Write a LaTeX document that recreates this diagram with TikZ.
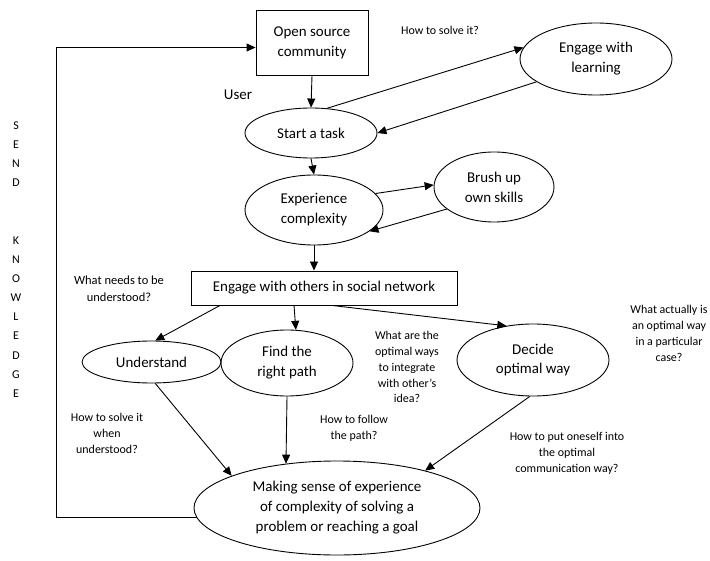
\documentclass[tikz,border=0pt]{standalone}
\usepackage{fontspec}
\setmainfont{Carlito}
\usetikzlibrary{arrows.meta,shapes.geometric}

\begin{document}
\begin{tikzpicture}[x=1bp, y=-1bp, line width=0.9pt,
  >={Triangle[length=9bp,width=8bp]},
  box/.style={rectangle, draw, inner sep=0pt, align=center,
    font=\fontsize{15}{20}\selectfont},
  oval/.style={ellipse, draw, inner sep=0pt, align=center,
    font=\fontsize{15}{20}\selectfont},
  mtext/.style={font=\fontsize{15}{20}\selectfont},
  qtext/.style={align=center, font=\fontsize{12}{16}\selectfont},
  sendtext/.style={align=center, font=\fontsize{12}{19.2}\selectfont}]
\useasboundingbox (0,0) rectangle (710,561);
% ---------------- main steps ----------------
\node[box, minimum width=112bp, minimum height=65bp] (osc) at (312,42.5)
  {Open source\\community};
\node[oval, minimum width=132bp, minimum height=50bp] (start) at (311,133)
  {Start a task};
\node[oval, minimum width=138bp, minimum height=70bp] (exper) at (314,210)
  {Experience\\complexity};
\node[oval, minimum width=152bp, minimum height=72bp] (learn) at (596,59)
  {Engage with\\learning};
\node[oval, minimum width=120bp, minimum height=70bp] (brush) at (494,187)
  {Brush up\\own skills};
\node[box, minimum width=266bp, minimum height=34bp] (social) at (324,288)
  {Engage with others in social network};
\node[oval, minimum width=139bp, minimum height=42bp] (under) at (151.5,362)
  {Understand};
\node[oval, minimum width=132bp, minimum height=66bp] (path) at (287,363)
  {Find the\\right path};
\node[oval, minimum width=152bp, minimum height=72bp] (decide) at (533,360)
  {Decide\\optimal way};
\node[oval, minimum width=286bp, minimum height=94bp] (sense) at (337,508)
  {Making sense of experience\\of complexity of solving a\\problem or reaching a goal};
% ---------------- questions and labels ----------------
\node[mtext] (user) at (238,95) {User};
\node[qtext] (qsolve) at (440,30) {How to solve it?};
\node[qtext, font=\fontsize{12.5}{17}\selectfont] (qneeds) at (119,289)
  {What needs to be\\understood?};
\node[qtext] (qwhen) at (107,433) {How to solve it\\when\\understood?};
\node[qtext] (qfollow) at (354,428) {How to follow\\the path?};
\node[qtext] (qways) at (407,367)
  {What are the\\optimal ways\\to integrate\\with other's\\idea?};
\node[qtext] (qactual) at (669,333)
  {What actually is\\an optimal way\\in a particular\\case?};
\node[qtext] (qput) at (567,453)
  {How to put oneself into\\the optimal\\communication way?};
\node[sendtext] (send) at (16,259.5)
  {S\\E\\N\\D\\[38.4bp]K\\N\\O\\W\\L\\E\\D\\G\\E};
% ---------------- connectors ----------------
\draw[->] (osc.south) -- (start.north);
\draw[->] (start.57) -- (learn.171);
\draw[->] (learn.201) -- (start.east);
\draw[->] (start.south) -- (exper.north);
\draw[->] (exper.15) -- (brush.178);
\draw[->] (brush.205) -- (exper.339);
\draw[->] (exper.south) -- (exper.south |- social.north);
\draw[->] ([xshift=-104bp]social.south) -- (under.80);
\draw[->] ([xshift=-30bp]social.south) -- (path.75);
\draw[->] ([xshift=8bp]social.south) -- (decide.128);
\draw[->] (under.280) -- (sense.163);
\draw[->] (path.south) -- (sense.139);
\draw[->] (decide.265) -- (sense.23);
% send knowledge back to the community
\coordinate (sendx) at (56,0);
\draw[->] (sense.184) -- (sense.184 -| sendx) |- ([yshift=-5bp]osc.west);
\end{tikzpicture}
\end{document}
